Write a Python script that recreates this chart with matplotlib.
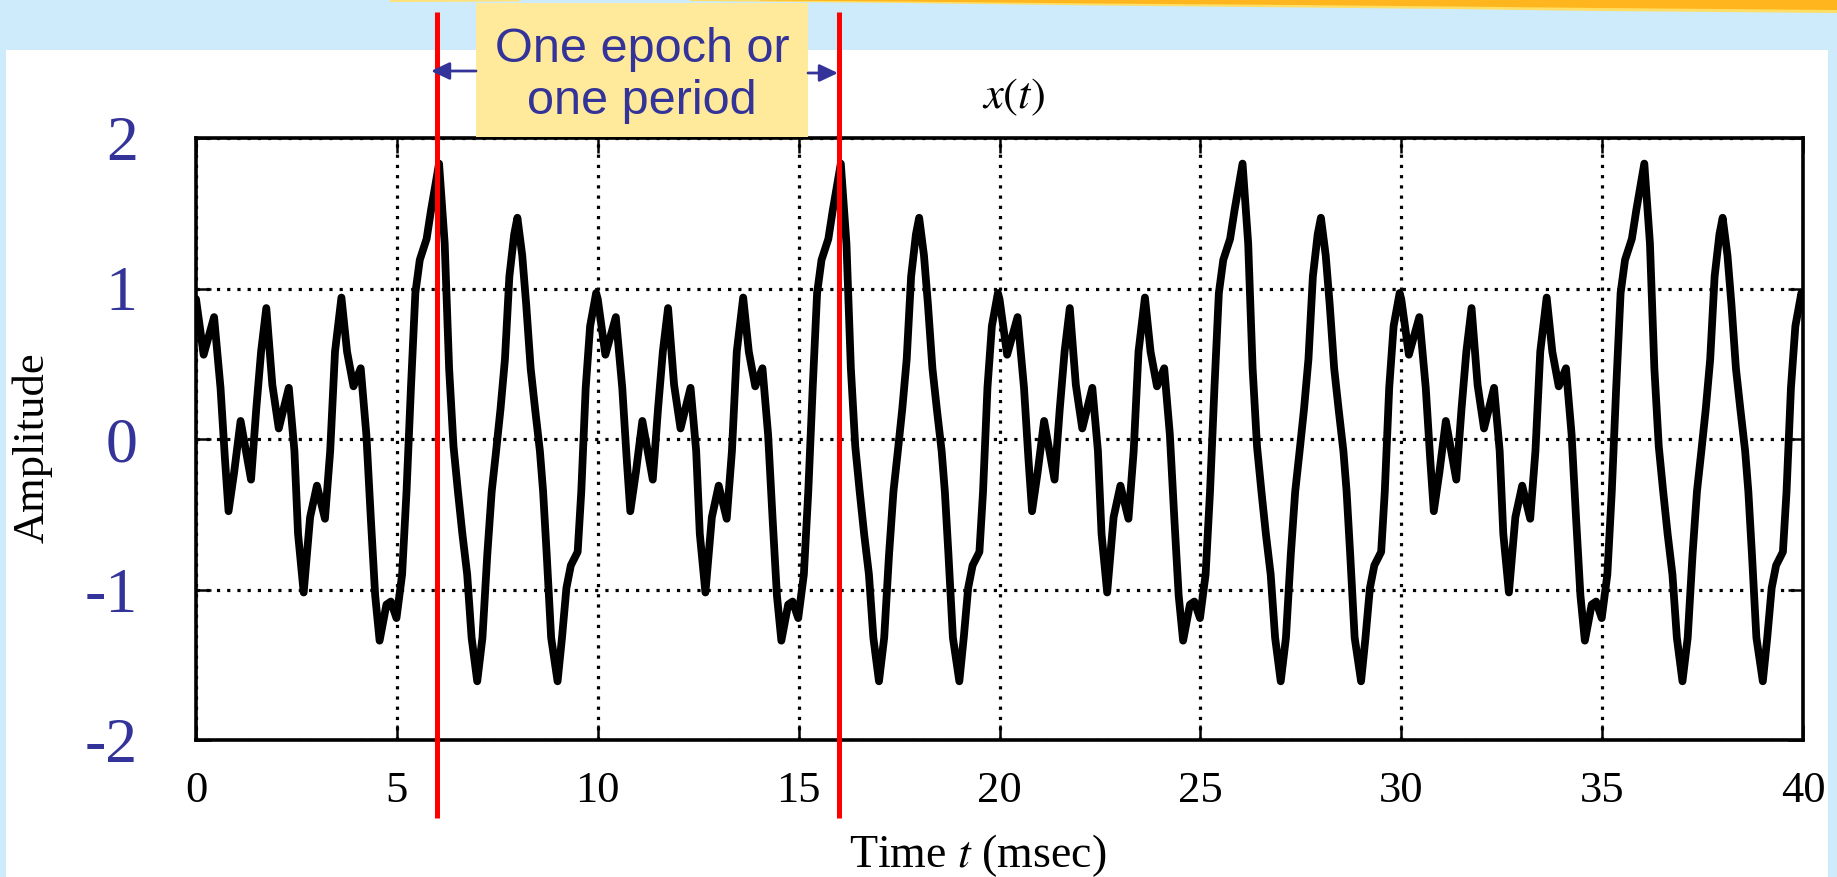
import numpy as np
import matplotlib
matplotlib.use("Agg")
import matplotlib.pyplot as plt
from matplotlib.patches import Rectangle, Polygon, FancyArrowPatch, ArrowStyle
from matplotlib.transforms import blended_transform_factory

# ---------------- data ----------------
# one period (10 ms) of the waveform
period_t = [0.00, 0.19, 0.45, 0.61, 0.72, 0.81, 0.95, 1.11, 1.37, 1.50, 1.62, 1.75,
            1.90, 2.06, 2.31, 2.45, 2.54, 2.68, 2.84, 3.01, 3.21, 3.34, 3.46, 3.62,
            3.76, 3.92, 4.10, 4.24, 4.35, 4.46, 4.57, 4.74, 4.85, 4.99, 5.13, 5.24,
            5.35, 5.46, 5.57, 5.74, 5.85, 6.05, 6.19, 6.30, 6.41, 6.52, 6.63, 6.75,
            6.86, 7.00, 7.13, 7.25, 7.36, 7.47, 7.58, 7.69, 7.80, 7.92, 8.00, 8.12,
            8.22, 8.33, 8.44, 8.56, 8.64, 8.73, 8.84, 9.00, 9.11, 9.22, 9.33, 9.50,
            9.59, 9.70, 9.81, 9.96]
period_x = [0.93, 0.56, 0.81, 0.34, -0.13, -0.48, -0.22, 0.12, -0.27, 0.20, 0.58, 0.87,
            0.36, 0.07, 0.34, -0.08, -0.63, -1.02, -0.52, -0.31, -0.53, -0.08, 0.58, 0.94,
            0.58, 0.35, 0.47, 0.03, -0.52, -1.04, -1.34, -1.10, -1.08, -1.19, -0.90, -0.35,
            0.34, 0.97, 1.19, 1.33, 1.52, 1.83, 1.30, 0.47, -0.05, -0.35, -0.63, -0.90,
            -1.32, -1.61, -1.32, -0.77, -0.35, -0.08, 0.20, 0.53, 1.08, 1.36, 1.47, 1.22,
            0.89, 0.47, 0.20, -0.08, -0.35, -0.77, -1.32, -1.61, -1.32, -0.99, -0.84, -0.75,
            -0.35, 0.34, 0.75, 0.97]
period_ms = 10
n_periods = 4
end_value = 0.93

epoch_bounds = [6, 16]

x_ticks = [0, 5, 10, 15, 20, 25, 30, 35, 40]
x_ticklabels = ["0", "5", "10", "15", "20", "25", "30", "35", "40"]
y_ticks = [2, 1, 0, -1, -2]
y_ticklabels = ["2", "1", "0", "-1", "-2"]

box_text = "One epoch or\none period"
title_text = r"$x(t)$"
xlabel_text = r"Time $t$ (msec)"
ylabel_text = "Amplitude"

# repeat the read period over the 40 ms record
t = np.concatenate([np.array(period_t) + k * period_ms for k in range(n_periods)] + [[n_periods * period_ms]])
x = np.concatenate([np.array(period_x) for _ in range(n_periods)] + [[end_value]])

# ---------------- figure ----------------
W, H = 1837, 877
plt.rcParams['mathtext.fontset'] = 'stix'
fig = plt.figure(figsize=(W / 100, H / 100), dpi=100, facecolor='#CDEBFB')


def fx(px):
    return px / W


def fy(py):
    return 1 - py / H


# white slide panel
fig.patches.append(Rectangle((fx(6), 0), fx(1828) - fx(6), fy(50), transform=fig.transFigure,
                             facecolor='white', edgecolor='none', zorder=-10))
# decorative brush stroke at top
brush_light = [(690, 0), (1837, 0), (1837, 13), (1600, 11), (1450, 9), (1300, 7.5), (1100, 5.5), (900, 3), (690, 1)]
brush_main = [(760, 0), (1837, 0), (1837, 10), (1600, 8), (1450, 6.5), (1300, 5), (1100, 3.5), (900, 1.5), (760, 0.5)]
brush_bits = [(390, 0), (520, 0), (520, 1.5), (390, 2)]
for pts, col in [(brush_light, '#FFDE66'), (brush_main, '#FFB61E'), (brush_bits, '#FFE27A')]:
    fig.patches.append(Polygon([(fx(a), fy(b)) for a, b in pts], closed=True, transform=fig.transFigure,
                               facecolor=col, edgecolor='none', zorder=-5))

ax = fig.add_axes([fx(196), fy(740), (1803 - 196) / W, (740 - 138) / H])
ax.set_facecolor('white')
ax.plot(t, x, color='black', lw=5.6, solid_joinstyle='round', solid_capstyle='round', zorder=3)
ax.set_xlim(0, 40)
ax.set_ylim(-2, 2)
ax.set_xticks(x_ticks)
ax.set_xticklabels(x_ticklabels)
ax.set_yticks(y_ticks)
ax.set_yticklabels(y_ticklabels)
ax.set_axisbelow(True)
ax.grid(True, color='black', linestyle=(0, (1.0, 2.2)), linewidth=2.3)
for s in ax.spines.values():
    s.set_linewidth(2.6)
ax.tick_params(direction='in', length=11, width=1.8, top=True, right=True)
ax.tick_params(axis='x', labelsize=32, pad=22)
ax.tick_params(axis='y', labelsize=46, pad=42, labelcolor='#333399')
for lab in ax.get_xticklabels() + ax.get_yticklabels():
    lab.set_fontfamily('Liberation Serif')

trans = blended_transform_factory(ax.transData, ax.transAxes)
for xb in epoch_bounds:
    ax.plot([xb, xb], [-0.1296, 1.209], transform=trans, clip_on=False, color='#FF0000', lw=3.6, zorder=10,
            solid_capstyle='butt')

# annotation box
fig.patches.append(Rectangle((fx(476), fy(137)), (808 - 476) / W, (137 - 3) / H, transform=fig.transFigure,
                             facecolor='#FFEA9C', edgecolor='none', zorder=5))
fig.text(fx(642), fy(75), box_text, ha='center', va='center', fontsize=35, family='Liberation Sans',
         color='#333399', linespacing=1.2, zorder=6)
astyle = ArrowStyle('-|>', head_length=0.7, head_width=0.33)
for (x0, x1, yy) in [(476, 431, 71), (808, 838, 73)]:
    fig.patches.append(FancyArrowPatch((fx(x0), fy(yy)), (fx(x1), fy(yy)), transform=fig.transFigure,
                                       arrowstyle=astyle, mutation_scale=16, color='#333399', lw=2,
                                       shrinkA=0, shrinkB=0, zorder=6))

fig.text(fx(1013), fy(96), title_text, ha='center', va='center', fontsize=32)
fig.text(fx(978), fy(867), xlabel_text, ha='center', va='baseline', fontsize=33, family='Liberation Serif')
fig.text(fx(32), fy(448), ylabel_text, ha='center', va='center', rotation=90, fontsize=32,
         family='Liberation Serif')

fig.savefig('out.png', dpi=100, facecolor=fig.get_facecolor())
